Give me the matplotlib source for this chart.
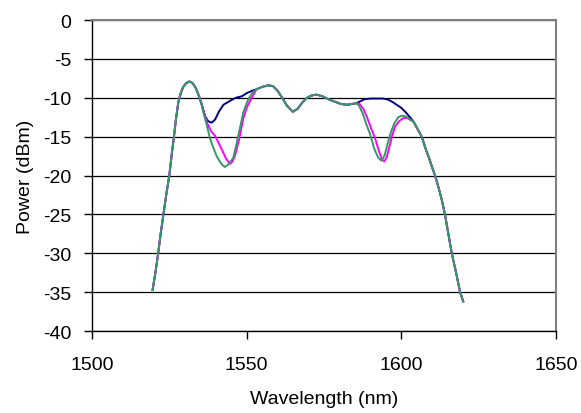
import matplotlib
matplotlib.use("Agg")
import matplotlib.pyplot as plt

plt.rcParams['font.family'] = ['Liberation Sans', 'DejaVu Sans']
plt.rcParams['axes.unicode_minus'] = False

# Wspólne zbocze narastające (wszystkie trzy krzywe)
lamNarast = [1519.6, 1520.5, 1521.4, 1522.2, 1523.1, 1524.0, 1525.0, 1525.8, 1526.5,
             1527.2, 1527.9, 1528.7, 1529.5, 1530.5, 1531.5, 1532.5, 1533.5, 1534.5, 1535.5]
mocNarast = [-34.7, -32.5, -30.0, -27.5, -25.0, -22.5, -20.0, -17.2, -15.0,
             -12.6, -10.6, -9.4, -8.6, -8.1, -7.9, -8.1, -8.7, -9.7, -10.9]

# Pierwszy dołek - osobno dla każdej krzywej
lamDolek1Nieb = [1536.6, 1537.5, 1538.7, 1539.8, 1541.0, 1542.5, 1544.6, 1546.5, 1548.5, 1550.0, 1551.8]
mocDolek1Nieb = [-12.4, -13.0, -13.2, -12.8, -11.8, -10.9, -10.4, -10.0, -9.8, -9.4, -9.1]
lamDolek1Mag = [1536.4, 1537.4, 1538.5, 1539.8, 1541.9, 1543.3, 1544.6, 1545.4, 1546.2,
                1547.6, 1548.9, 1550.0, 1551.1, 1552.2]
mocDolek1Mag = [-12.2, -13.4, -14.3, -14.9, -16.6, -17.8, -18.5, -18.2, -17.5,
                -15.3, -12.7, -11.3, -10.4, -9.6]
lamDolek1Ziel = [1536.0, 1537.1, 1538.2, 1539.3, 1540.3, 1541.5, 1542.3, 1543.0, 1544.0,
                 1545.0, 1545.7, 1547.3, 1548.9, 1550.5, 1551.8]
mocDolek1Ziel = [-11.9, -13.5, -15.3, -16.5, -17.5, -18.3, -18.7, -18.9, -18.6,
                 -18.1, -17.7, -14.9, -11.9, -10.2, -9.4]

# Wspólny środek
lamSrodek = [1553.2, 1555.0, 1557.0, 1558.5, 1560.0, 1561.5, 1563.0, 1564.9, 1566.5,
             1568.0, 1569.5, 1571.0, 1572.6, 1574.5, 1576.5, 1578.5, 1580.5, 1582.5,
             1584.0, 1585.5]
mocSrodek = [-8.9, -8.6, -8.4, -8.5, -9.1, -10.0, -11.0, -11.8, -11.4,
             -10.6, -10.0, -9.7, -9.6, -9.8, -10.2, -10.5, -10.8, -10.9,
             -10.8, -10.7]

# Drugi dołek
lamDolek2Nieb = [1586.5, 1588.0, 1590.0, 1592.0, 1594.0, 1595.5, 1597.0, 1598.5, 1600.0,
                 1601.5, 1603.0]
mocDolek2Nieb = [-10.5, -10.2, -10.1, -10.1, -10.1, -10.2, -10.5, -10.9, -11.3,
                 -11.9, -12.6]
lamDolek2Mag = [1586.5, 1587.8, 1589.0, 1590.3, 1591.5, 1592.7, 1593.7, 1594.5, 1595.3,
                1596.2, 1597.0, 1598.0, 1599.3, 1600.7, 1601.8, 1603.0]
mocDolek2Mag = [-10.8, -11.5, -12.6, -14.0, -15.2, -16.8, -17.9, -18.2, -17.6,
                -16.2, -14.9, -13.7, -13.0, -12.6, -12.6, -12.8]
lamDolek2Ziel = [1586.3, 1587.5, 1588.7, 1590.0, 1591.2, 1592.5, 1593.6, 1594.6, 1595.5,
                 1596.5, 1597.7, 1599.0, 1600.2, 1601.5, 1602.7]
mocDolek2Ziel = [-11.0, -12.0, -13.4, -14.8, -16.5, -17.7, -18.1, -17.4, -16.0,
                 -14.6, -13.3, -12.5, -12.3, -12.4, -12.8]

# Wspólne zbocze opadające
lamOpad = [1604.0, 1605.2, 1606.6, 1607.8, 1609.0, 1610.0, 1610.9, 1612.0, 1613.0,
           1614.1, 1615.2, 1616.3, 1617.7, 1619.0, 1620.0]
mocOpad = [-13.1, -14.0, -15.0, -16.5, -17.8, -19.0, -20.0, -21.5, -23.0,
           -25.0, -27.5, -30.0, -32.5, -35.0, -36.2]

krzywe = {
    "#000080": (lamDolek1Nieb, mocDolek1Nieb, lamDolek2Nieb, mocDolek2Nieb),
    "#FF00FF": (lamDolek1Mag, mocDolek1Mag, lamDolek2Mag, mocDolek2Mag),
    "#339966": (lamDolek1Ziel, mocDolek1Ziel, lamDolek2Ziel, mocDolek2Ziel),
}

fig = plt.figure(figsize=(5.81, 4.14), dpi=100)
ax = fig.add_axes([0.1583, 0.198, 0.7987, 0.7512])

for kolor, (l1, m1, l2, m2) in krzywe.items():
    lam = lamNarast + l1 + lamSrodek + l2 + lamOpad
    moc = mocNarast + m1 + mocSrodek + m2 + mocOpad
    ax.plot(lam, moc, color=kolor, linewidth=1.4)

ax.set_xlim(1500, 1650)
ax.set_ylim(-40, 0)
ax.set_xticks([1500, 1550, 1600, 1650])
ax.set_yticks(range(-40, 1, 5))
ax.yaxis.grid(True, color="black", linewidth=0.9)
ax.set_axisbelow(True)

for s in ["left", "bottom"]:
    ax.spines[s].set_color("black")
    ax.spines[s].set_linewidth(1.0)
for s in ["top", "right"]:
    ax.spines[s].set_color("#808080")
    ax.spines[s].set_linewidth(1.5)

ax.tick_params(axis="both", direction="out", length=6, width=1, labelsize=14, colors="black")
ax.tick_params(axis="y", pad=9)
ax.tick_params(axis="x", pad=12)

ax.set_xlabel("Wavelength (nm)", fontsize=14, labelpad=12)
ax.set_ylabel("Power (dBm)", fontsize=14, labelpad=6)

fig.savefig("out.png", dpi=100)
